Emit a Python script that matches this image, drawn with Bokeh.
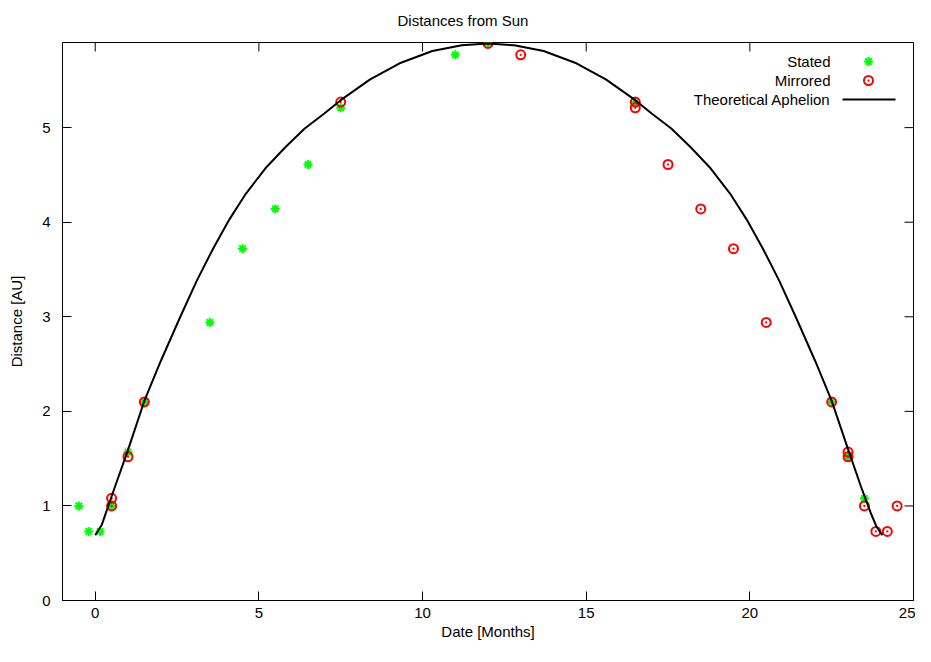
from bokeh.plotting import figure
from bokeh.models import Range1d, FixedTicker, Label
from bokeh.embed import file_html
from bokeh.resources import INLINE

# ---- data ----
stated_x = [-0.5, -0.2, 0.15, 0.5, 1.0, 1.5, 3.5, 4.5, 5.5, 6.5, 7.5, 11.0, 12.0, 16.5, 22.5, 23.0, 23.5]
stated_y = [1.00, 0.73, 0.73, 1.00, 1.57, 2.10, 2.94, 3.72, 4.14, 4.61, 5.21, 5.77, 5.89, 5.27, 2.10, 1.52, 1.08]

mirrored_x = [0.5, 0.5, 1.0, 1.5, 7.5, 12.0, 13.0, 16.5, 16.5, 17.5, 18.5, 19.5, 20.5, 22.5, 23.0, 23.0, 23.5, 23.85, 24.2, 24.5]
mirrored_y = [1.08, 1.00, 1.52, 2.10, 5.27, 5.89, 5.77, 5.27, 5.21, 4.61, 4.14, 3.72, 2.94, 2.10, 1.57, 1.52, 1.00, 0.73, 0.73, 1.00]

aphelion_x = [0.0, 0.2, 0.3, 0.6, 1.0, 1.5, 2.0, 2.6, 3.1, 3.6, 4.1, 4.6, 5.2, 5.8, 6.4, 7.0, 7.5, 8.4,
              9.3, 10.3, 11.2, 12.0, 12.8, 13.7, 14.7, 15.6, 16.5, 17.0, 17.6, 18.2, 18.8, 19.4, 19.9,
              20.4, 20.9, 21.4, 22.0, 22.5, 23.0, 23.4, 23.7, 23.87, 24.05]
aphelion_y = [0.69, 0.80, 0.90, 1.20, 1.59, 2.11, 2.53, 3.00, 3.38, 3.72, 4.03, 4.30, 4.57, 4.79, 4.99, 5.15, 5.29, 5.51,
              5.68, 5.81, 5.87, 5.89, 5.87, 5.81, 5.68, 5.51, 5.29, 5.15, 4.99, 4.79, 4.57, 4.30, 4.03,
              3.72, 3.38, 3.00, 2.53, 2.11, 1.60, 1.20, 0.92, 0.78, 0.69]

x_ticks = [0, 5, 10, 15, 20, 25]
y_ticks = [0, 1, 2, 3, 4, 5]
title_text = "Distances from Sun"
x_label = "Date [Months]"
y_label = "Distance [AU]"
legend_labels = ["Stated", "Mirrored", "Theoretical Aphelion"]

# ---- layout / style ----
FONT = "Liberation Sans"
FS = "15px"
W, H = 915, 646
BL, BR, BT, BB = 62, 2, 42, 46
FW, FH = W - BL - BR, H - BT - BB
TICK = 9

p = figure(width=W, height=H, output_backend="svg", toolbar_location=None,
           x_range=Range1d(-1, 25), y_range=Range1d(0, 5.9),
           min_border_left=BL, min_border_right=BR, min_border_top=BT, min_border_bottom=BB,
           title=title_text)
p.extra_x_ranges = {"px": Range1d(0, FW)}
p.extra_y_ranges = {"px": Range1d(0, FH)}
p.grid.visible = False
p.outline_line_color = "black"
p.outline_line_width = 1
p.background_fill_color = "white"
p.border_fill_color = "white"

# title: centred over the whole canvas, near the top edge
p.title.text_font = FONT
p.title.text_font_size = FS
p.title.text_font_style = "normal"
p.title.text_color = "black"
p.title.align = "left"
p.title.offset = 335
p.title.vertical_align = "top"
p.title.standoff = 23

def style_axis(ax):
    ax.major_tick_in = TICK
    ax.major_tick_out = 0
    ax.minor_tick_line_color = None
    ax.axis_line_color = "black"
    ax.major_tick_line_color = "black"
    ax.major_label_text_font = FONT
    ax.major_label_text_font_size = FS
    ax.major_label_text_color = "black"
    ax.axis_label_text_font = FONT
    ax.axis_label_text_font_size = FS
    ax.axis_label_text_font_style = "normal"
    ax.axis_label_text_color = "black"

xa = p.below[0]
xa.ticker = FixedTicker(ticks=x_ticks)
xa.axis_label = x_label
style_axis(xa)
xa.major_label_standoff = 7
xa.axis_label_standoff = 2

ya = p.left[0]
ya.ticker = FixedTicker(ticks=y_ticks)
ya.axis_label = y_label
style_axis(ya)
ya.major_label_standoff = 12
ya.axis_label_standoff = 14

# mirrored ticks on the top and right borders
p.segment(x0=x_ticks, x1=x_ticks, y0=[FH] * len(x_ticks), y1=[FH - TICK] * len(x_ticks),
          y_range_name="px", line_color="black", line_width=1)
p.segment(x0=[FW] * len(y_ticks), x1=[FW - TICK] * len(y_ticks), y0=y_ticks, y1=y_ticks,
          x_range_name="px", line_color="black", line_width=1)

r_stated = p.scatter(stated_x, stated_y, marker="asterisk", size=9, line_color="#00ff00", line_width=2)
r_mirr = p.scatter(mirrored_x, mirrored_y, marker="circle_dot", size=9, line_color="#ff0000",
                   fill_color=None, line_width=2)
r_line = p.line(aphelion_x, aphelion_y, line_color="black", line_width=2)

# legend: right-aligned text with the key to its right
KEY_TEXT_X = 768
KEY_X = 806
KEY_LINE = (780, 833)
rows_y = [FH - 19, FH - 38, FH - 57]
for lab, yy in zip(legend_labels, rows_y):
    p.add_layout(Label(x=KEY_TEXT_X, y=yy, x_units="screen", y_units="screen", text=lab,
                       text_align="right", text_baseline="middle", text_font=FONT,
                       text_font_size=FS, text_color="black"))
p.scatter(x=[KEY_X], y=[rows_y[0]], x_range_name="px", y_range_name="px",
          marker="asterisk", size=9, line_color="#00ff00", line_width=2)
p.scatter(x=[KEY_X], y=[rows_y[1]], x_range_name="px", y_range_name="px",
          marker="circle_dot", size=9, line_color="#ff0000", fill_color=None, line_width=2)
p.line(x=list(KEY_LINE), y=[rows_y[2], rows_y[2]], x_range_name="px", y_range_name="px",
       line_color="black", line_width=2)

open("out.html", "w").write(file_html(p, INLINE))
